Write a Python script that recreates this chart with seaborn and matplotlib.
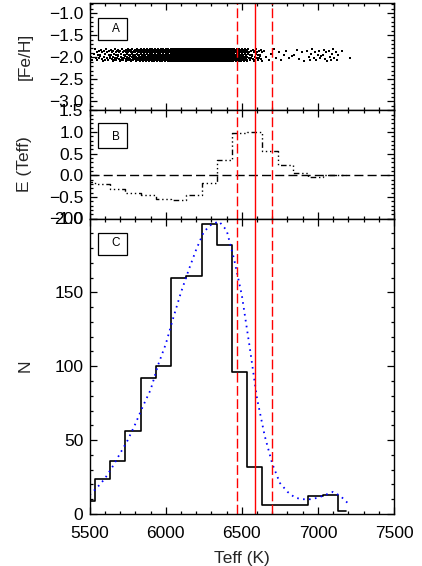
import matplotlib
matplotlib.use("Agg")
import matplotlib.pyplot as plt
import seaborn as sns
import pandas as pd
from matplotlib.patches import Rectangle
from matplotlib.ticker import MultipleLocator

# ---------------- data ----------------
BIN_CENTERS = [5485, 5585, 5685, 5785, 5885, 5985, 6085, 6185, 6285,
               6385, 6485, 6585, 6685, 6785, 6885, 6985, 7085, 7185]
N_COUNTS = [9, 24, 36, 56, 92, 100, 160, 161, 196,
            182, 96, 32, 6, 6, 6, 12, 13, 2]
E_TEFF = [-0.15, -0.21, -0.31, -0.40, -0.46, -0.55, -0.58, -0.45, -0.19,
          0.36, 0.98, 1.01, 0.57, 0.24, 0.05, -0.05, 0.01, 0.01]

FIT_TEFF = [5500, 5550, 5600, 5650, 5700, 5750, 5800, 5850, 5900, 5950,
            6000, 6050, 6100, 6150, 6200, 6250, 6300, 6350, 6400, 6450,
            6500, 6550, 6600, 6650, 6700, 6750, 6800, 6850, 6900, 6950,
            7000, 7050, 7100, 7150, 7200]
FIT_N = [13, 18, 24, 32, 41, 50, 61, 73, 84, 101,
         115, 133, 150, 165, 179, 191, 196, 198, 192, 172,
         148, 114, 78, 53, 34, 21, 15, 11, 10, 10,
         11, 13, 15, 12, 7]

FEH_CYCLE = [-1.95, -1.83, -2.04, -1.89, -2.09, -1.86, -1.99, -2.07, -1.92,
             -1.81, -2.01, -1.88, -2.06, -1.94, -1.85, -2.02, -1.97]

TEFF_CENTER = 6585
TEFF_LOW = 6470
TEFF_HIGH = 6700

X_TICKS = [5500, 6000, 6500, 7000, 7500]

# stars of panel A: one per histogram count, spread through its bin
star_teff, star_feh = [], []
k = 0
for c, n in zip(BIN_CENTERS, N_COUNTS):
    for i in range(n):
        star_teff.append(c - 50 + 100 * (i + 0.5) / n)
        star_feh.append(FEH_CYCLE[k % len(FEH_CYCLE)])
        k += 1
stars = pd.DataFrame({"Teff": star_teff, "FeH": star_feh})
hist = pd.DataFrame({"Teff": BIN_CENTERS, "N": N_COUNTS, "E": E_TEFF})
fit = pd.DataFrame({"Teff": FIT_TEFF, "N": FIT_N})

# ---------------- style ----------------
sns.set_style("ticks")
plt.rcParams["font.family"] = ["Liberation Sans", "DejaVu Sans"]
plt.rcParams["axes.linewidth"] = 1.0
plt.rcParams["xtick.direction"] = "in"
plt.rcParams["ytick.direction"] = "in"

W, H = 422, 566
fig = plt.figure(figsize=(W / 100, H / 100), dpi=100)

left = 89.7 / W
width = (394 - 89.7) / W


def panel(top_px, bot_px):
    return fig.add_axes([left, 1 - bot_px / H, width, (bot_px - top_px) / H])


axA = panel(3.3, 110.3)
axB = panel(110.3, 218.5)
axC = panel(218.5, 514.0)

# ---------------- panel A ----------------
sns.scatterplot(data=stars, x="Teff", y="FeH", ax=axA, color="black",
                marker="s", s=0.8, linewidth=0, legend=False)
axA.set_ylim(-3.2, -0.78)
axA.yaxis.set_major_locator(MultipleLocator(0.5))
axA.yaxis.set_minor_locator(MultipleLocator(0.1))
axA.set_ylabel("[Fe/H]")

# ---------------- panel B ----------------
sns.lineplot(data=hist, x="Teff", y="E", ax=axB, color="black",
             drawstyle="steps-mid", lw=1.0, estimator=None, sort=False)
axB.lines[-1].set_dashes([4, 2, 1, 2, 1, 2, 1, 2])
axB.axhline(0, color="black", lw=1.0, dashes=(6.5, 3))
axB.set_ylim(-1.0, 1.5)
axB.yaxis.set_major_locator(MultipleLocator(0.5))
axB.yaxis.set_minor_locator(MultipleLocator(0.1))
axB.set_ylabel("E (Teff)")

# ---------------- panel C ----------------
sns.lineplot(data=hist, x="Teff", y="N", ax=axC, color="black",
             drawstyle="steps-mid", lw=1.2, estimator=None, sort=False)
sns.lineplot(data=fit, x="Teff", y="N", ax=axC, color="blue",
             lw=1.3, estimator=None, sort=False)
axC.lines[-1].set_dashes([0.9, 2.4])
axC.set_ylim(0, 200)
axC.yaxis.set_major_locator(MultipleLocator(50))
axC.yaxis.set_minor_locator(MultipleLocator(10))
axC.set_ylabel("N")
axC.set_xlabel("Teff (K)", fontsize=12.5, labelpad=6.5)

# ---------------- common ----------------
boxes = {axA: (0.860, 0.657, 0.76, "A"),
         axB: (0.880, 0.649, 0.756, "B"),
         axC: (0.950, 0.876, 0.916, "C")}
for ax in (axA, axB, axC):
    ax.set_xlim(5500, 7500)
    ax.set_xticks(X_TICKS)
    ax.xaxis.set_minor_locator(MultipleLocator(100))
    ax.tick_params(which="both", top=True, right=True, direction="in",
                   labelsize=12.5, width=0.9, colors="black")
    ax.tick_params(which="major", length=5)
    ax.tick_params(which="minor", length=2.5)
    ax.tick_params(axis="y", which="major", pad=4.5)
    ax.tick_params(axis="x", which="major", pad=9)
    ax.axvline(TEFF_CENTER, color="red", lw=1.0)
    ax.axvline(TEFF_LOW, color="red", lw=1.0, dashes=(7, 2.5))
    ax.axvline(TEFF_HIGH, color="red", lw=1.0, dashes=(7, 2.5))
    ax.yaxis.label.set_size(12.5)
    ax.yaxis.set_label_coords(-0.188, 0.5)
    for s in ax.spines.values():
        s.set_color("black")
        s.set_linewidth(1.0)
    top, bot, ty, letter = boxes[ax]
    ax.add_patch(Rectangle((0.0283, bot), 0.0933, top - bot,
                           transform=ax.transAxes, fill=False,
                           edgecolor="black", lw=0.9, zorder=5))
    ax.text(0.085, ty, letter, transform=ax.transAxes, fontsize=8.5,
            ha="center", va="center", color="black")

for ax in (axA, axB):
    ax.set_xlabel("")
    ax.tick_params(labelbottom=False)

fig.savefig("out.png", dpi=100)
